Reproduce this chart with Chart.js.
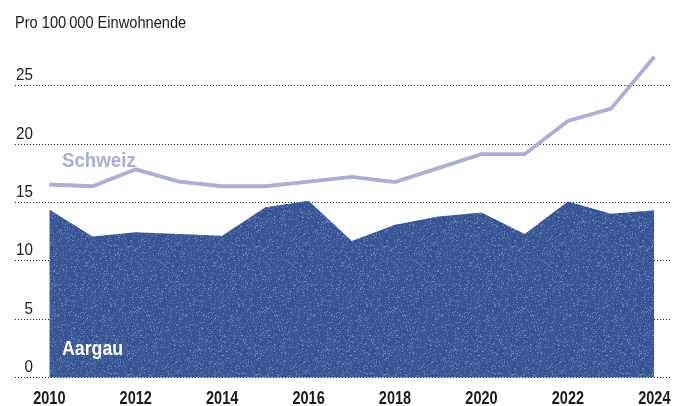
<!DOCTYPE html>
<html lang="de">
<head>
<meta charset="UTF-8">
<title>Pro 100 000 Einwohnende</title>
<script src="https://cdn.jsdelivr.net/npm/chart.js"></script>
<style>
  html, body { margin: 0; padding: 0; background: #fff; }
  #wrap { width: 686px; height: 406px; position: relative; }
</style>
</head>
<body>
<div id="wrap"><canvas id="chart" width="686" height="406"></canvas></div>
<script>
// data
const years = [2010, 2011, 2012, 2013, 2014, 2015, 2016, 2017, 2018, 2019, 2020, 2021, 2022, 2023, 2024];
const aargau = [14.4, 12.1, 12.45, 12.3, 12.15, 14.6, 15.15, 11.7, 13.1, 13.8, 14.15, 12.3, 15.1, 14.05, 14.35];
const schweiz = [16.55, 16.4, 17.85, 16.8, 16.4, 16.4, 16.8, 17.2, 16.75, 17.95, 19.15, 19.15, 22.0, 23.05, 27.5];
const yTicks = [0, 5, 10, 15, 20, 25];
const xTicks = [2010, 2012, 2014, 2016, 2018, 2020, 2022, 2024];

const sans = '"Liberation Sans", Arial, sans-serif';

// speckled blue fill like the printed texture
function speckle() {
  const n = 128;
  const c = document.createElement('canvas');
  c.width = n; c.height = n;
  const g = c.getContext('2d');
  const img = g.createImageData(n, n);
  let s = 2463534242;
  function rnd() {
    s ^= s << 13; s >>>= 0;
    s ^= s >>> 17;
    s ^= s << 5; s >>>= 0;
    return s / 4294967296;
  }
  for (let i = 0; i < n * n; i++) {
    const r = rnd();
    let k = (rnd() - 0.5) * 12;
    if (r > 0.9) k += 30 + rnd() * 30;
    else if (r > 0.72) k += 14;
    img.data[i * 4] = 55 + k;
    img.data[i * 4 + 1] = 85 + k;
    img.data[i * 4 + 2] = 148 + k * 0.8;
    img.data[i * 4 + 3] = 255;
  }
  g.putImageData(img, 0, 0);
  return g.createPattern(c, 'repeat');
}

// draw text squeezed horizontally, the original uses a condensed face
function squeezed(ctx, text, x, y, sx) {
  ctx.save();
  ctx.translate(x, y);
  ctx.scale(sx, 1);
  ctx.fillText(text, 0, 0);
  ctx.restore();
}

const labels = {
  id: 'labels',
  afterDraw(chart) {
    const ctx = chart.ctx;
    const x = chart.scales.x, y = chart.scales.y;
    ctx.save();
    ctx.textBaseline = 'alphabetic';

    // unit title
    ctx.textAlign = 'left';
    ctx.fillStyle = '#1a1a1a';
    ctx.font = '17px ' + sans;
    squeezed(ctx, 'Pro 100\u202F000 Einwohnende', 15, 27.5, 0.86);

    // y tick labels, above their grid lines
    ctx.textAlign = 'right';
    ctx.font = '16px ' + sans;
    yTicks.forEach(v => {
      squeezed(ctx, String(v), 33, y.getPixelForValue(v) - 5.5, 0.95);
    });

    // x tick labels
    ctx.textAlign = 'center';
    ctx.font = 'bold 17.5px ' + sans;
    xTicks.forEach(v => {
      squeezed(ctx, String(v), x.getPixelForValue(v), 404, 0.83);
    });

    // series names
    ctx.textAlign = 'left';
    ctx.font = 'bold 21px ' + sans;
    ctx.fillStyle = '#a8aed2';
    squeezed(ctx, 'Schweiz', 62, 166.5, 0.89);
    ctx.font = 'bold 19.5px ' + sans;
    ctx.fillStyle = '#ffffff';
    squeezed(ctx, 'Aargau', 62, 354.5, 0.91);
    ctx.restore();
  }
};

new Chart(document.getElementById('chart'), {
  type: 'line',
  data: {
    datasets: [
      {
        label: 'Schweiz',
        data: years.map((yr, i) => ({ x: yr, y: schweiz[i] })),
        borderColor: '#abb0d3',
        borderWidth: 3.8,
        pointRadius: 0,
        fill: false,
        tension: 0
      },
      {
        label: 'Aargau',
        data: years.map((yr, i) => ({ x: yr, y: aargau[i] })),
        borderWidth: 0,
        borderColor: 'rgba(0,0,0,0)',
        backgroundColor: speckle(),
        pointRadius: 0,
        fill: 'origin',
        tension: 0
      }
    ]
  },
  plugins: [labels],
  options: {
    responsive: false,
    animation: false,
    layout: { padding: { left: 15, right: 16, top: 27.5, bottom: 28.3 } },
    plugins: { legend: { display: false }, tooltip: { enabled: false } },
    scales: {
      x: {
        type: 'linear',
        min: 2009.206,
        max: 2024.363,
        display: false
      },
      y: {
        min: 0,
        max: 30,
        z: 1,
        afterBuildTicks: axis => { axis.ticks = yTicks.map(v => ({ value: v })); },
        grid: { color: '#222', lineWidth: 1, drawTicks: false },
        border: { display: false, dash: [1, 2] },
        ticks: { display: false }
      }
    }
  }
});
</script>
</body>
</html>
